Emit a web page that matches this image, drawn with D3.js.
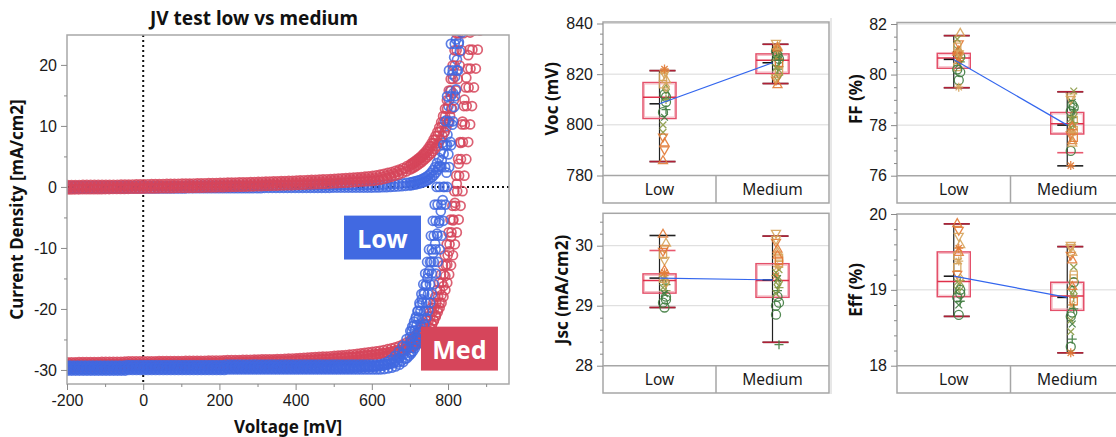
<!DOCTYPE html>
<html>
<head>
<meta charset="utf-8">
<script src="https://cdn.jsdelivr.net/npm/d3@7"></script>
<style>
  html, body { margin: 0; padding: 0; background: #fff; }
  svg { display: block; font-family: "Noto Sans", "Open Sans", sans-serif; }
</style>
</head>
<body>
<svg id="chart" width="1116" height="437"></svg>
<script>
// ---------------- JV sweep data ----------------
// Sweep voltages (mV) shared by every JV curve
const sweepV = [
  -200,-190,-180,-170,-160,-150,-140,-130,-120,-110,
  -100,-90,-80,-70,-60,-50,-40,-30,-20,-10,
  0,10,20,30,40,50,60,70,80,90,
  100,110,120,130,140,150,160,170,180,190,
  200,210,220,230,240,250,260,270,280,290,
  300,310,320,330,340,350,360,370,380,390,
  400,410,420,430,440,450,460,470,480,490,
  500,510,520,530,540,550,560,570,580,590,
  600,610,620,630,640,650,660,670,680,690,
  700,705,710,715,720,725,730,735,740,745,
  750,755,760,765,770,775,780,785,790,795,
  800,805,810,815,820,825,830,835,840,845,
  850,855,860,865,870,875,880
];

// Small start-voltage offset (mV) of each individual sweep
const sweepOffset = {
  lowLight1: 0, lowLight2: 2.5, lowLight3: -2, lowLight4: 1, lowLight5: 2.5,
  medLight1: 1.5, medLight2: -1, medLight3: 3, medLight4: -2,
  lowDark1: 1, lowDark2: -1.5,
  medDark1: 2, medDark2: -2.5, medDark3: 0.5
};

// Current density (mA/cm2), low group under illumination
const lowLight1 = [
  -29.7,-29.7,-29.7,-29.7,-29.7,-29.7,-29.7,-29.7,-29.7,-29.7,
  -29.7,-29.7,-29.7,-29.7,-29.7,-29.7,-29.6,-29.6,-29.6,-29.6,
  -29.6,-29.6,-29.6,-29.6,-29.6,-29.6,-29.6,-29.6,-29.6,-29.6,
  -29.6,-29.6,-29.6,-29.6,-29.6,-29.6,-29.6,-29.6,-29.6,-29.6,
  -29.6,-29.6,-29.5,-29.5,-29.5,-29.5,-29.5,-29.5,-29.5,-29.5,
  -29.5,-29.5,-29.5,-29.5,-29.5,-29.5,-29.5,-29.5,-29.5,-29.5,
  -29.5,-29.5,-29.5,-29.5,-29.5,-29.5,-29.5,-29.5,-29.5,-29.5,
  -29.5,-29.5,-29.5,-29.5,-29.5,-29.5,-29.5,-29.5,-29.5,-29.5,
  -29.5,-29.5,-29.4,-29.3,-29.15,-28.9,-28.55,-28.05,-27.27,-26.13,
  -24.6,-23.68,-22.67,-21.55,-20.33,-19.02,-17.55,-15.95,-14.2,-12.3,
  -10.25,-8.0,-5.55,-2.9,0,3.25
];
const lowLight2 = [
  -30.1,-30.1,-30.1,-30.1,-30.1,-30.1,-30.1,-30.1,-30.1,-30.1,
  -30.1,-30.1,-30.1,-30.1,-30.1,-30.1,-30.0,-30.0,-30.0,-30.0,
  -30.0,-30.0,-30.0,-30.0,-30.0,-30.0,-30.0,-30.0,-30.0,-30.0,
  -30.0,-30.0,-30.0,-30.0,-30.0,-30.0,-30.0,-30.0,-30.0,-30.0,
  -30.0,-30.0,-29.9,-29.9,-29.9,-29.9,-29.9,-29.9,-29.9,-29.9,
  -29.9,-29.9,-29.9,-29.9,-29.9,-29.9,-29.9,-29.9,-29.9,-29.9,
  -29.9,-29.9,-29.9,-29.9,-29.9,-29.9,-29.9,-29.9,-29.9,-29.9,
  -29.9,-29.9,-29.9,-29.9,-29.9,-29.9,-29.9,-29.9,-29.9,-29.9,
  -29.9,-29.9,-29.9,-29.85,-29.75,-29.63,-29.43,-29.13,-28.7,-28.05,
  -27.05,-26.4,-25.65,-24.8,-23.85,-22.8,-21.65,-20.4,-19.05,-17.55,
  -15.95,-14.2,-12.3,-10.25,-8.0,-5.55,-2.9,0,3.25,6.85,
  10.75,14.85,19.1,23.45,27.85
];
const lowLight3 = [
  -29.3,-29.3,-29.3,-29.3,-29.3,-29.3,-29.3,-29.3,-29.3,-29.3,
  -29.3,-29.3,-29.3,-29.3,-29.3,-29.3,-29.2,-29.2,-29.2,-29.2,
  -29.2,-29.2,-29.2,-29.2,-29.2,-29.2,-29.2,-29.2,-29.2,-29.2,
  -29.2,-29.2,-29.2,-29.2,-29.2,-29.2,-29.2,-29.2,-29.2,-29.2,
  -29.2,-29.2,-29.1,-29.1,-29.1,-29.1,-29.1,-29.1,-29.1,-29.1,
  -29.1,-29.1,-29.1,-29.1,-29.1,-29.1,-29.1,-29.1,-29.1,-29.1,
  -29.1,-29.1,-29.1,-29.1,-29.1,-29.1,-29.1,-29.1,-29.1,-29.1,
  -29.1,-29.1,-29.1,-29.1,-29.1,-29.1,-29.1,-29.1,-29.1,-29.1,
  -29.1,-29.1,-29.1,-29.1,-29.05,-29.0,-28.9,-28.75,-28.5,-28.15,
  -27.65,-27.32,-26.93,-26.45,-25.87,-25.18,-24.4,-23.52,-22.53,-21.45,
  -20.27,-18.98,-17.55,-15.95,-14.2,-12.3,-10.25,-8.0,-5.55,-2.9,
  0,3.25,6.85,10.75,14.85,19.1,23.45,27.85
];
const lowLight4 = [
  -29.9,-29.9,-29.9,-29.9,-29.9,-29.9,-29.9,-29.9,-29.9,-29.9,
  -29.9,-29.9,-29.9,-29.9,-29.9,-29.9,-29.8,-29.8,-29.8,-29.8,
  -29.8,-29.8,-29.8,-29.8,-29.8,-29.8,-29.8,-29.8,-29.8,-29.8,
  -29.8,-29.8,-29.8,-29.8,-29.8,-29.8,-29.8,-29.8,-29.8,-29.8,
  -29.8,-29.8,-29.7,-29.7,-29.7,-29.7,-29.7,-29.7,-29.7,-29.7,
  -29.7,-29.7,-29.7,-29.7,-29.7,-29.7,-29.7,-29.7,-29.7,-29.7,
  -29.7,-29.7,-29.7,-29.7,-29.7,-29.7,-29.7,-29.7,-29.7,-29.7,
  -29.7,-29.7,-29.7,-29.7,-29.7,-29.65,-29.62,-29.58,-29.53,-29.49,
  -29.44,-29.32,-29.14,-28.9,-28.65,-28.25,-27.68,-26.97,-26.06,-24.93,
  -23.62,-22.88,-22.08,-21.25,-20.37,-19.4,-18.42,-17.32,-16.17,-14.94,
  -13.77,-12.3,-10.82,-9.3,-7.66,-5.9,-4.0,-2.15,0,2.34,
  5.34,7.4,10.2,13.1,16.0,19.1,22.2,25.3,28.5
];
const lowLight5 = [
  -29.4,-29.4,-29.4,-29.4,-29.4,-29.4,-29.4,-29.4,-29.4,-29.4,
  -29.4,-29.4,-29.4,-29.4,-29.4,-29.4,-29.35,-29.35,-29.35,-29.35,
  -29.35,-29.35,-29.35,-29.35,-29.35,-29.35,-29.35,-29.35,-29.35,-29.35,
  -29.35,-29.35,-29.35,-29.35,-29.35,-29.35,-29.35,-29.35,-29.35,-29.35,
  -29.35,-29.35,-29.3,-29.3,-29.3,-29.3,-29.3,-29.3,-29.3,-29.3,
  -29.3,-29.3,-29.3,-29.3,-29.3,-29.3,-29.3,-29.3,-29.3,-29.3,
  -29.3,-29.3,-29.3,-29.3,-29.3,-29.3,-29.3,-29.3,-29.3,-29.3,
  -29.3,-29.3,-29.3,-29.3,-29.3,-29.3,-29.3,-29.3,-29.3,-29.3,
  -29.3,-29.28,-29.25,-29.15,-29.03,-28.83,-28.53,-28.1,-27.5,-26.6,
  -25.3,-24.5,-23.6,-22.6,-21.5,-20.3,-19.0,-17.55,-15.95,-14.2,
  -12.3,-10.25,-8.0,-5.55,-2.9,0,3.25,6.85,10.75,14.85,
  19.1,23.45,27.85
];

// Medium group under illumination
const medLight1 = [
  -28.75,-28.75,-28.75,-28.72,-28.7,-28.7,-28.7,-28.7,-28.7,-28.68,
  -28.65,-28.65,-28.65,-28.65,-28.65,-28.62,-28.6,-28.6,-28.6,-28.6,
  -28.6,-28.6,-28.6,-28.58,-28.55,-28.55,-28.55,-28.55,-28.55,-28.55,
  -28.55,-28.52,-28.5,-28.5,-28.5,-28.5,-28.5,-28.48,-28.45,-28.45,
  -28.45,-28.42,-28.4,-28.4,-28.4,-28.38,-28.35,-28.35,-28.35,-28.32,
  -28.3,-28.28,-28.25,-28.25,-28.25,-28.22,-28.2,-28.18,-28.15,-28.12,
  -28.1,-28.05,-28.0,-27.98,-27.95,-27.9,-27.85,-27.82,-27.8,-27.75,
  -27.7,-27.65,-27.6,-27.55,-27.5,-27.42,-27.35,-27.28,-27.2,-27.12,
  -27.05,-26.95,-26.85,-26.75,-26.6,-26.45,-26.29,-26.08,-25.82,-25.51,
  -25.08,-24.85,-24.57,-24.24,-23.86,-23.43,-22.95,-22.42,-21.84,-21.21,
  -20.53,-19.8,-19.0,-18.0,-16.9,-15.7,-14.35,-12.85,-11.2,-9.4,
  -7.45,-5.35,-3.1,-0.7,1.85,4.55,7.35,10.25,13.25,16.3,
  19.4,22.5,25.6,28.7
];
const medLight2 = [
  -29.15,-29.15,-29.15,-29.12,-29.1,-29.1,-29.1,-29.1,-29.1,-29.08,
  -29.05,-29.05,-29.05,-29.05,-29.05,-29.02,-29.0,-29.0,-29.0,-29.0,
  -29.0,-29.0,-29.0,-28.98,-28.95,-28.95,-28.95,-28.95,-28.95,-28.95,
  -28.95,-28.92,-28.9,-28.9,-28.9,-28.9,-28.9,-28.88,-28.85,-28.85,
  -28.85,-28.82,-28.8,-28.8,-28.8,-28.78,-28.75,-28.75,-28.75,-28.72,
  -28.7,-28.68,-28.65,-28.65,-28.65,-28.62,-28.6,-28.58,-28.55,-28.52,
  -28.5,-28.48,-28.45,-28.42,-28.4,-28.35,-28.3,-28.28,-28.25,-28.2,
  -28.15,-28.1,-28.05,-28.0,-27.95,-27.9,-27.85,-27.78,-27.7,-27.62,
  -27.55,-27.45,-27.35,-27.25,-27.15,-27.0,-26.85,-26.65,-26.4,-26.1,
  -25.75,-25.55,-25.3,-25.05,-24.75,-24.4,-24.0,-23.55,-23.05,-22.5,
  -21.9,-21.25,-20.55,-19.8,-19.0,-18.0,-16.9,-15.7,-14.35,-12.85,
  -11.2,-9.4,-7.45,-5.35,-3.1,-0.7,1.85,4.55,7.35,10.25,
  13.25,16.3,19.4,22.5,25.6,28.7
];
const medLight3 = [
  -29.55,-29.55,-29.55,-29.52,-29.5,-29.5,-29.5,-29.5,-29.5,-29.48,
  -29.45,-29.45,-29.45,-29.45,-29.45,-29.42,-29.4,-29.4,-29.4,-29.4,
  -29.4,-29.4,-29.4,-29.38,-29.35,-29.35,-29.35,-29.35,-29.35,-29.35,
  -29.35,-29.32,-29.3,-29.3,-29.3,-29.3,-29.3,-29.28,-29.25,-29.25,
  -29.25,-29.22,-29.2,-29.2,-29.2,-29.18,-29.15,-29.15,-29.15,-29.12,
  -29.1,-29.08,-29.05,-29.05,-29.05,-29.02,-29.0,-28.98,-28.95,-28.95,
  -28.95,-28.92,-28.9,-28.88,-28.85,-28.8,-28.75,-28.72,-28.7,-28.65,
  -28.6,-28.58,-28.55,-28.5,-28.45,-28.4,-28.35,-28.28,-28.2,-28.1,
  -28.02,-27.95,-27.85,-27.75,-27.65,-27.55,-27.36,-27.17,-26.93,-26.64,
  -26.32,-26.13,-25.93,-25.71,-25.44,-25.17,-24.85,-24.48,-24.06,-23.59,
  -23.07,-22.5,-21.9,-21.25,-20.55,-19.8,-19.0,-18.0,-16.9,-15.7,
  -14.35,-12.85,-11.2,-9.4,-7.45,-5.35,-3.1,-0.7,1.85,4.55,
  7.35,10.25,13.25,16.3,19.4,22.5,25.6
];
const medLight4 = [
  -29.05,-29.05,-29.05,-29.02,-29.0,-29.0,-29.0,-29.0,-29.0,-28.98,
  -28.95,-28.95,-28.95,-28.95,-28.95,-28.92,-28.9,-28.9,-28.9,-28.9,
  -28.9,-28.9,-28.9,-28.88,-28.85,-28.85,-28.85,-28.85,-28.85,-28.85,
  -28.85,-28.82,-28.8,-28.8,-28.8,-28.8,-28.8,-28.78,-28.75,-28.75,
  -28.75,-28.72,-28.7,-28.7,-28.7,-28.68,-28.65,-28.65,-28.65,-28.62,
  -28.6,-28.58,-28.55,-28.55,-28.55,-28.52,-28.5,-28.48,-28.45,-28.42,
  -28.4,-28.38,-28.35,-28.32,-28.3,-28.25,-28.2,-28.18,-28.15,-28.1,
  -28.05,-28.0,-27.95,-27.9,-27.85,-27.8,-27.75,-27.68,-27.6,-27.55,
  -27.5,-27.42,-27.35,-27.28,-27.2,-27.1,-27.0,-26.88,-26.74,-26.57,
  -26.36,-26.24,-26.1,-25.94,-25.76,-25.55,-25.3,-25.0,-24.65,-24.25,
  -23.78,-23.23,-22.6,-21.87,-21.03,-20.07,-18.97,-17.7,-16.25,-14.6,
  -12.7,-10.55,-8.15,-5.5,-2.6,0.5,3.8,7.2,10.7,14.3,
  17.9,21.6,25.3,29.0
];

// Dark sweeps
const lowDark1 = [
  0.15,0.15,0.15,0.15,0.15,0.15,0.15,0.15,0.15,0.15,
  0.15,0.15,0.15,0.15,0.15,0.15,0.15,0.15,0.15,0.15,
  0.15,0.15,0.15,0.15,0.15,0.15,0.15,0.15,0.15,0.15,
  0.15,0.15,0.2,0.2,0.2,0.2,0.2,0.2,0.2,0.2,
  0.2,0.2,0.2,0.2,0.2,0.2,0.2,0.2,0.2,0.2,
  0.2,0.2,0.25,0.25,0.25,0.25,0.25,0.25,0.25,0.25,
  0.25,0.25,0.25,0.25,0.25,0.25,0.25,0.25,0.25,0.25,
  0.3,0.3,0.3,0.3,0.3,0.3,0.3,0.3,0.3,0.3,
  0.31,0.33,0.35,0.37,0.4,0.43,0.47,0.52,0.58,0.65,
  0.75,0.81,0.87,0.95,1.03,1.13,1.25,1.4,1.57,1.77,
  2.03,2.35,2.75,3.25,3.9,4.75,5.85,7.25,8.95,10.95,
  13.25,15.75,18.45,21.25,24.15,27.15
];
const lowDark2 = [
  -0.25,-0.25,-0.25,-0.25,-0.25,-0.25,-0.25,-0.25,-0.25,-0.25,
  -0.25,-0.25,-0.25,-0.25,-0.25,-0.25,-0.25,-0.25,-0.25,-0.25,
  -0.25,-0.25,-0.25,-0.25,-0.25,-0.25,-0.25,-0.25,-0.25,-0.25,
  -0.25,-0.25,-0.2,-0.2,-0.2,-0.2,-0.2,-0.2,-0.2,-0.2,
  -0.2,-0.2,-0.2,-0.2,-0.2,-0.2,-0.2,-0.2,-0.2,-0.2,
  -0.2,-0.2,-0.15,-0.15,-0.15,-0.15,-0.15,-0.15,-0.15,-0.15,
  -0.15,-0.15,-0.15,-0.15,-0.15,-0.15,-0.15,-0.15,-0.15,-0.15,
  -0.1,-0.1,-0.1,-0.1,-0.1,-0.1,-0.1,-0.1,-0.1,-0.1,
  -0.1,-0.09,-0.07,-0.05,-0.03,0,0.03,0.07,0.12,0.18,
  0.25,0.3,0.35,0.41,0.47,0.55,0.63,0.73,0.85,1.0,
  1.17,1.37,1.63,1.95,2.35,2.85,3.5,4.35,5.45,6.85,
  8.55,10.55,12.85,15.35,18.05,20.85,23.75,26.75
];
const medDark1 = [
  0.30,0.30,0.31,0.31,0.32,0.32,0.33,0.33,0.34,0.34,
  0.35,0.35,0.36,0.36,0.37,0.38,0.39,0.40,0.41,0.42,
  0.43,0.44,0.45,0.46,0.47,0.48,0.49,0.50,0.51,0.52,
  0.53,0.54,0.55,0.56,0.57,0.58,0.6,0.61,0.63,0.64,
  0.66,0.67,0.69,0.7,0.72,0.73,0.75,0.76,0.78,0.8,
  0.82,0.84,0.86,0.88,0.9,0.92,0.94,0.96,0.99,1.01,
  1.04,1.06,1.09,1.11,1.14,1.17,1.2,1.23,1.26,1.29,
  1.33,1.36,1.4,1.44,1.48,1.52,1.57,1.62,1.68,1.74,
  1.8,1.9,2.0,2.15,2.3,2.45,2.65,2.85,3.1,3.4,
  3.75,3.95,4.15,4.4,4.65,4.9,5.2,5.5,5.85,6.25,
  6.7,7.2,7.75,8.35,9.0,9.75,10.6,11.6,12.8,14.2,
  15.8,17.7,19.9,22.4,25.2,28.2
];
const medDark2 = [
  -0.05,-0.05,-0.04,-0.04,-0.03,-0.03,-0.02,-0.02,-0.01,-0.01,
  0.0,0.0,0.01,0.01,0.02,0.03,0.04,0.05,0.06,0.07,
  0.08,0.09,0.1,0.11,0.12,0.13,0.14,0.15,0.16,0.17,
  0.18,0.19,0.2,0.21,0.22,0.23,0.25,0.26,0.28,0.29,
  0.31,0.32,0.34,0.35,0.37,0.38,0.4,0.41,0.43,0.45,
  0.47,0.49,0.51,0.53,0.55,0.57,0.59,0.61,0.64,0.66,
  0.69,0.71,0.74,0.76,0.79,0.82,0.85,0.88,0.91,0.94,
  0.98,1.01,1.05,1.09,1.13,1.17,1.22,1.27,1.33,1.36,
  1.39,1.45,1.55,1.67,1.85,2.03,2.21,2.45,2.69,2.98,
  3.32,3.52,3.73,3.95,4.15,4.4,4.65,4.9,5.2,5.5,
  5.85,6.25,6.7,7.2,7.75,8.35,9.0,9.75,10.6,11.6,
  12.8,14.2,15.8,17.7,19.9,22.4,25.2,28.2
];
const medDark3 = [
  -0.4,-0.4,-0.39,-0.39,-0.38,-0.38,-0.37,-0.37,-0.36,-0.36,
  -0.35,-0.35,-0.34,-0.34,-0.33,-0.32,-0.31,-0.3,-0.29,-0.28,
  -0.27,-0.26,-0.25,-0.24,-0.23,-0.22,-0.21,-0.2,-0.19,-0.18,
  -0.17,-0.16,-0.15,-0.14,-0.13,-0.12,-0.1,-0.09,-0.07,-0.06,
  -0.04,-0.03,-0.01,0.0,0.02,0.03,0.05,0.06,0.08,0.1,
  0.12,0.14,0.16,0.18,0.2,0.22,0.24,0.26,0.28,0.3,
  0.33,0.35,0.38,0.4,0.43,0.46,0.48,0.51,0.54,0.57,
  0.6,0.63,0.67,0.7,0.74,0.78,0.82,0.87,0.92,0.95,
  0.98,1.06,1.15,1.3,1.45,1.65,1.85,2.05,2.3,2.55,
  2.85,3.03,3.2,3.4,3.61,3.84,4.07,4.35,4.63,4.9,
  5.2,5.5,5.85,6.25,6.7,7.2,7.75,8.35,9.0,9.75,
  10.6,11.6,12.8,14.2,15.8,17.7,19.9,22.4,25.2,28.2
];

const jvXTicks = [-200, 0, 200, 400, 600, 800];
const jvXMinor = [-100, 100, 300, 500, 700, 900];
const jvYTicks = [-30, -20, -10, 0, 10, 20];
const jvYMinor = [-25, -15, -5, 5, 15];

// ---------------- Device statistics ----------------
const groups = ['Low', 'Medium'];

// Per-device values, in device order
const lowVoc = [786, 790, 818, 800, 812, 806, 816, 821, 809, 797, 820, 814, 805, 793, 810, 819, 803, 811, 795, 822, 815];
const medVoc = [832, 816, 827, 829, 822, 824, 830, 819, 826, 817.5, 828, 821, 825, 831, 823, 826.5, 829.5, 820, 818.5, 827.5, 824.5, 822.5, 830.5, 825.5];
const lowFF = [80.9, 81.2, 81.65, 81.4, 79.78, 80.5, 80.3, 79.5, 80.7, 81.0, 80.8, 80.6, 80.2, 80.95, 80.65, 81.1, 80.4, 80.1, 80.75, 80.55, 80.85];
const medFF = [79.1, 77.4, 79.35, 76.98, 78.3, 77.8, 76.4, 78.0, 78.7, 77.6, 78.9, 78.2, 78.55, 77.3, 78.1, 77.9, 77.7, 78.45, 79.0, 78.8, 77.5, 78.25, 77.95, 78.6];
const lowJsc = [30.2, 29.95, 30.05, 29.45, 28.97, 29.35, 29.85, 29.5, 29.1, 29.3, 29.75, 29.4, 29.05, 29.6, 29.25, 29.45, 29.2, 29.15, 29.9, 29.55, 29.38];
const medJsc = [30.2, 29.95, 29.6, 28.85, 29.25, 29.8, 29.5, 29.35, 29.05, 30.05, 29.45, 29.7, 29.0, 29.9, 29.3, 29.55, 29.65, 29.4, 30.1, 29.15, 29.75, 29.2, 29.85, 28.35];
const lowEff = [19.88, 19.78, 19.6, 19.0, 18.67, 18.85, 19.3, 19.38, 18.95, 19.1, 19.7, 19.05, 18.9, 19.5, 19.12, 19.45, 18.8, 19.0, 19.2, 19.55, 19.15];
const medEff = [19.58, 19.4, 19.3, 18.25, 18.35, 19.2, 18.17, 19.0, 19.1, 19.45, 18.55, 19.15, 18.65, 19.5, 18.9, 18.45, 18.8, 18.95, 19.55, 18.7, 18.85, 18.6, 19.05, 18.75];

// Device marker shapes and colours
const lowShapes = ['triangle','triangleDown','triangle','x','circle','plus','square','star','circle','x','triangleDown','diamond','circle','triangle','plus','square','x','circle','triangleDown','star','diamond'];
const lowColors = ['orange','orange','tan','olive','green','green','tan','tan','green','olive','tan','olive','green','orange','olive','tan','green','green','orange','orange','tan'];
const medShapes = ['triangleDown','triangle','x','circle','plus','square','star','diamond','circle','triangleDown','x','square','circle','triangle','plus','x','star','diamond','triangleDown','circle','square','x','triangle','plus'];
const medColors = ['tan','orange','olive','green','green','tan','orange','olive','green','orange','green','tan','green','tan','olive','olive','tan','olive','tan','green','orange','olive','orange','green'];

// Box summaries per group: [min, lower whisker, Q1, median, Q3, upper whisker, max, mean]
const vocBox = [[785.5, 785.5, 802.5, 810.9, 816.7, 821.4, 821.4, 808.3],
                [816.3, 816.3, 820.3, 825.5, 828.0, 831.8, 831.8, 824.5]];
const ffBox  = [[79.48, 79.48, 80.25, 80.66, 80.84, 81.54, 81.54, 80.6],
                [76.39, 76.91, 77.65, 78.05, 78.5, 79.32, 79.32, 78.0]];
const jscBox = [[28.97, 28.97, 29.21, 29.42, 29.53, 29.92, 30.17, 29.46],
                [28.39, 28.39, 29.14, 29.42, 29.7, 30.16, 30.16, 29.43]];
const effBox = [[18.65, 18.65, 18.91, 19.11, 19.5, 19.87, 19.87, 19.18],
                [18.17, 18.17, 18.73, 18.92, 19.1, 19.57, 19.57, 18.9]];

const vocTicks = [780, 800, 820, 840];
const ffTicks = [76, 78, 80, 82];
const jscTicks = [28, 29, 30];
const effTicks = [18, 19, 20];

// ---------------- Drawing ----------------
const BLUE = '#4169E1';
const RED = '#D6455B';
const markerColor = { orange: '#E27A35', tan: '#D6A35A', olive: '#8A9A45', green: '#3E7B3E' };

const svg = d3.select('#chart');

// ===== JV panel =====
const jv = { left: 67, right: 509, top: 35, bottom: 384 };
const xJV = d3.scaleLinear().domain([-200, 960]).range([jv.left, jv.right]);
const yJV = d3.scaleLinear().domain([-32.3, 24.9]).range([jv.bottom, jv.top]);

svg.append('defs').append('clipPath').attr('id', 'jvClip')
  .append('rect')
  .attr('x', jv.left).attr('y', jv.top)
  .attr('width', jv.right - jv.left).attr('height', jv.bottom - jv.top);

const gJV = svg.append('g');

// zero reference lines
gJV.append('line')
  .attr('x1', xJV(-200)).attr('x2', xJV(960))
  .attr('y1', yJV(0)).attr('y2', yJV(0))
  .attr('stroke', '#111').attr('stroke-width', 2).attr('stroke-dasharray', '2,3');
gJV.append('line')
  .attr('x1', xJV(0)).attr('x2', xJV(0))
  .attr('y1', jv.top).attr('y2', jv.bottom)
  .attr('stroke', '#111').attr('stroke-width', 2).attr('stroke-dasharray', '2,3');

const jvCurves = [
  { key: 'lowDark1', J: lowDark1, color: BLUE }, { key: 'lowDark2', J: lowDark2, color: BLUE },
  { key: 'medDark1', J: medDark1, color: RED }, { key: 'medDark2', J: medDark2, color: RED },
  { key: 'medDark3', J: medDark3, color: RED },
  { key: 'medLight1', J: medLight1, color: RED }, { key: 'medLight2', J: medLight2, color: RED },
  { key: 'medLight3', J: medLight3, color: RED }, { key: 'medLight4', J: medLight4, color: RED },
  { key: 'lowLight4', J: lowLight4, color: BLUE }, { key: 'lowLight3', J: lowLight3, color: BLUE },
  { key: 'lowLight2', J: lowLight2, color: BLUE }, { key: 'lowLight5', J: lowLight5, color: BLUE },
  { key: 'lowLight1', J: lowLight1, color: BLUE }
];

const curveLayer = gJV.append('g').attr('clip-path', 'url(#jvClip)');
jvCurves.forEach(c => {
  const off = sweepOffset[c.key];
  curveLayer.append('g')
    .selectAll('circle')
    .data(c.J.map((j, i) => [sweepV[i] + off, j]))
    .join('circle')
    .attr('cx', d => xJV(d[0]))
    .attr('cy', d => yJV(d[1]))
    .attr('r', 4.5)
    .attr('fill', 'none')
    .attr('stroke', c.color)
    .attr('stroke-width', 1.7)
    .attr('stroke-opacity', 0.85);
});

// plot frame
gJV.append('rect')
  .attr('x', jv.left).attr('y', jv.top)
  .attr('width', jv.right - jv.left).attr('height', jv.bottom - jv.top)
  .attr('fill', 'none').attr('stroke', '#a8a8a8').attr('stroke-width', 1.5);

function styleAxis(g) {
  g.select('.domain').remove();
  g.selectAll('.tick line').attr('stroke', '#8a8a8a');
  g.selectAll('.tick text').attr('fill', '#1a1a1a').style('font-size', '16px');
}

gJV.append('g').attr('transform', `translate(0,${jv.bottom})`)
  .call(d3.axisBottom(xJV).tickValues(jvXTicks).tickSize(6).tickPadding(5).tickFormat(d => String(d)))
  .call(styleAxis);
gJV.append('g').attr('transform', `translate(0,${jv.bottom})`)
  .call(d3.axisBottom(xJV).tickValues(jvXMinor).tickSize(3).tickFormat(''))
  .call(styleAxis);
gJV.append('g').attr('transform', `translate(${jv.left},0)`)
  .call(d3.axisLeft(yJV).tickValues(jvYTicks).tickSize(6).tickPadding(4).tickFormat(d => String(d)))
  .call(styleAxis);
gJV.append('g').attr('transform', `translate(${jv.left},0)`)
  .call(d3.axisLeft(yJV).tickValues(jvYMinor).tickSize(3).tickFormat(''))
  .call(styleAxis);

// group tags
function tag(v0, v1, j0, j1, text, fill) {
  const x0 = xJV(v0), x1 = xJV(v1), y0 = yJV(j0), y1 = yJV(j1);
  gJV.append('rect').attr('x', x0).attr('y', y0).attr('width', x1 - x0).attr('height', y1 - y0).attr('fill', fill);
  gJV.append('text').attr('x', (x0 + x1) / 2).attr('y', (y0 + y1) / 2)
    .attr('text-anchor', 'middle').attr('dominant-baseline', 'central')
    .attr('fill', '#fff').style('font-size', '25px').style('font-weight', 700).text(text);
}
tag(527, 729, -4.7, -11.9, 'Low', BLUE);
tag(729, 931, -22.9, -30.1, 'Med', RED);

// titles
svg.append('text').attr('x', 254).attr('y', 25).attr('text-anchor', 'middle')
  .style('font-size', '19px').style('font-weight', 700).attr('fill', '#111')
  .text('JV test low vs medium');
svg.append('text').attr('x', 288).attr('y', 433).attr('text-anchor', 'middle')
  .style('font-size', '17px').style('font-weight', 700).attr('fill', '#111')
  .text('Voltage [mV]');
svg.append('text').attr('transform', `translate(23,${(jv.top + jv.bottom) / 2}) rotate(-90)`)
  .attr('text-anchor', 'middle')
  .style('font-size', '17px').style('font-weight', 700).attr('fill', '#111')
  .text('Current Density [mA/cm2]');

// ===== Box plot panels =====
function markerPath(shape, r) {
  const t = r * 0.75, s = r * 0.8, u = r * 0.7;
  switch (shape) {
    case 'circle': return `M${r},0A${r},${r} 0 1,1 ${-r},0A${r},${r} 0 1,1 ${r},0Z`;
    case 'triangle': return `M0,${-r}L${r},${r * 0.75}L${-r},${r * 0.75}Z`;
    case 'triangleDown': return `M0,${r}L${r},${-r * 0.75}L${-r},${-r * 0.75}Z`;
    case 'square': return `M${-s},${-s}H${s}V${s}H${-s}Z`;
    case 'diamond': return `M0,${-r}L${r * 0.75},0L0,${r}L${-r * 0.75},0Z`;
    case 'plus': return `M${-r},0H${r}M0,${-r}V${r}`;
    case 'x': return `M${-t},${-t}L${t},${t}M${t},${-t}L${-t},${t}`;
    default: return `M${-r},0H${r}M0,${-r}V${r}M${-u},${-u}L${u},${u}M${u},${-u}L${-u},${u}`;
  }
}

const panels = [
  { label: 'Voc (mV)', x0: 603, x1: 829, frameTop: 22, plotBottom: 175.5, catBottom: 203,
    domain: [780, 840], rangeTop: 23.5, ticks: vocTicks, minorStep: 4, box: vocBox, vals: [lowVoc, medVoc], labelX: 551 },
  { label: 'FF (%)', x0: 897, x1: 1124, frameTop: 22.5, plotBottom: 175.7, catBottom: 203,
    domain: [76, 82], rangeTop: 24, ticks: ffTicks, minorStep: 0.5, box: ffBox, vals: [lowFF, medFF], labelX: 855 },
  { label: 'Jsc (mA/cm2)', x0: 603, x1: 829, frameTop: 213.3, plotBottom: 365.7, catBottom: 393,
    domain: [28, 30], rangeTop: 245.7, ticks: jscTicks, minorStep: 0.2, box: jscBox, vals: [lowJsc, medJsc], labelX: 561 },
  { label: 'Eff (%)', x0: 897, x1: 1124, frameTop: 214, plotBottom: 365.7, catBottom: 393,
    domain: [18, 20], rangeTop: 214, ticks: effTicks, minorStep: 0.2, box: effBox, vals: [lowEff, medEff], labelX: 855 }
];

// thin separator between panel columns
svg.append('line').attr('x1', 831).attr('x2', 831).attr('y1', 18).attr('y2', 394)
  .attr('stroke', '#d0d0d0').attr('stroke-width', 1);

panels.forEach(p => {
  const g = svg.append('g');
  const y = d3.scaleLinear().domain(p.domain).range([p.plotBottom, p.rangeTop]);
  const x = d3.scaleBand().domain(groups).range([p.x0, p.x1]);
  const cx = grp => x(grp) + x.bandwidth() / 2;
  const topVal = y.invert(p.frameTop);

  // gridlines
  g.selectAll('line.grid').data(p.ticks.filter(t => t > p.domain[0] && y(t) > p.frameTop + 1))
    .join('line').attr('class', 'grid')
    .attr('x1', p.x0).attr('x2', p.x1).attr('y1', d => y(d)).attr('y2', d => y(d))
    .attr('stroke', '#d9d9d9').attr('stroke-width', 1);

  // frame and category strip
  g.append('rect').attr('x', p.x0).attr('y', p.frameTop).attr('width', p.x1 - p.x0)
    .attr('height', p.catBottom - p.frameTop).attr('fill', 'none').attr('stroke', '#a6a6a6').attr('stroke-width', 1.5);
  g.append('line').attr('x1', p.x0).attr('x2', p.x1).attr('y1', p.plotBottom).attr('y2', p.plotBottom)
    .attr('stroke', '#a6a6a6').attr('stroke-width', 1.5);
  g.append('line').attr('x1', x('Medium')).attr('x2', x('Medium')).attr('y1', p.plotBottom).attr('y2', p.catBottom)
    .attr('stroke', '#a6a6a6').attr('stroke-width', 1.5);
  g.selectAll('text.cat').data(groups).join('text').attr('class', 'cat')
    .attr('x', d => cx(d)).attr('y', (p.plotBottom + p.catBottom) / 2)
    .attr('text-anchor', 'middle').attr('dominant-baseline', 'central')
    .style('font-size', '15.5px').attr('fill', '#1a1a1a').text(d => d);

  // y axis
  const minor = d3.range(p.domain[0], topVal + 1e-9, p.minorStep)
    .filter(v => !p.ticks.some(t => Math.abs(t - v) < 1e-6));
  g.append('g').attr('transform', `translate(${p.x0},0)`)
    .call(d3.axisLeft(y).tickValues(p.ticks).tickSize(6).tickPadding(4).tickFormat(d => String(d)))
    .call(styleAxis);
  g.append('g').attr('transform', `translate(${p.x0},0)`)
    .call(d3.axisLeft(y).tickValues(minor).tickSize(3).tickFormat(''))
    .call(styleAxis);

  g.append('text').attr('transform', `translate(${p.labelX},${(p.frameTop + p.plotBottom) / 2}) rotate(-90)`)
    .attr('text-anchor', 'middle').attr('dominant-baseline', 'central')
    .style('font-size', '17px').style('font-weight', 700).attr('fill', '#111').text(p.label);

  groups.forEach((grp, gi) => {
    const c = cx(grp);
    const [mn, wl, q1, md, q3, wh, mx, mean] = p.box[gi];
    // range line and extreme caps
    g.append('line').attr('x1', c).attr('x2', c).attr('y1', y(mn)).attr('y2', y(mx))
      .attr('stroke', '#222').attr('stroke-width', 1.2);
    [mn, mx].forEach(v => g.append('line').attr('x1', c - 10).attr('x2', c + 16)
      .attr('y1', y(v)).attr('y2', y(v)).attr('stroke', '#222').attr('stroke-width', 1.6));
    // whisker caps
    [wl, wh].forEach(v => g.append('line').attr('x1', c - 10).attr('x2', c + 16)
      .attr('y1', y(v)).attr('y2', y(v)).attr('stroke', '#E0203E').attr('stroke-width', 1.6).attr('stroke-opacity', 0.75));
    // quartile box and median
    g.append('rect').attr('x', c - 16.5).attr('y', y(q3)).attr('width', 33).attr('height', y(q1) - y(q3))
      .attr('fill', 'none').attr('stroke', '#E4506A').attr('stroke-width', 1.5);
    g.append('rect').attr('x', c - 15).attr('y', y(q3) + 1.5).attr('width', 30).attr('height', Math.max(0, y(q1) - y(q3) - 3))
      .attr('fill', 'none').attr('stroke', '#F3B2BC').attr('stroke-width', 0.8);
    g.append('line').attr('x1', c - 16.5).attr('x2', c + 16.5).attr('y1', y(md)).attr('y2', y(md))
      .attr('stroke', '#E0304A').attr('stroke-width', 1.5);

    // device markers
    const shapes = gi === 0 ? lowShapes : medShapes;
    const cols = gi === 0 ? lowColors : medColors;
    g.append('g').selectAll('path').data(p.vals[gi]).join('path')
      .attr('transform', (v, i) => `translate(${c + 5 + ((i % 3) - 1) * 1.5},${y(v)})`)
      .attr('d', (v, i) => markerPath(shapes[i], 4.5))
      .attr('fill', 'none')
      .attr('stroke', (v, i) => markerColor[cols[i]])
      .attr('stroke-width', 1.3)
      .attr('stroke-opacity', 0.9);

    // mean tick
    g.append('line').attr('x1', c - 10).attr('x2', c).attr('y1', y(mean)).attr('y2', y(mean))
      .attr('stroke', '#111').attr('stroke-width', 1.5);
  });

  // line connecting the group means
  g.append('path')
    .datum(groups.map((grp, gi) => [cx(grp), y(p.box[gi][7])]))
    .attr('d', d3.line())
    .attr('fill', 'none').attr('stroke', '#3366EE').attr('stroke-width', 1.2);
});
</script>
</body>
</html>
